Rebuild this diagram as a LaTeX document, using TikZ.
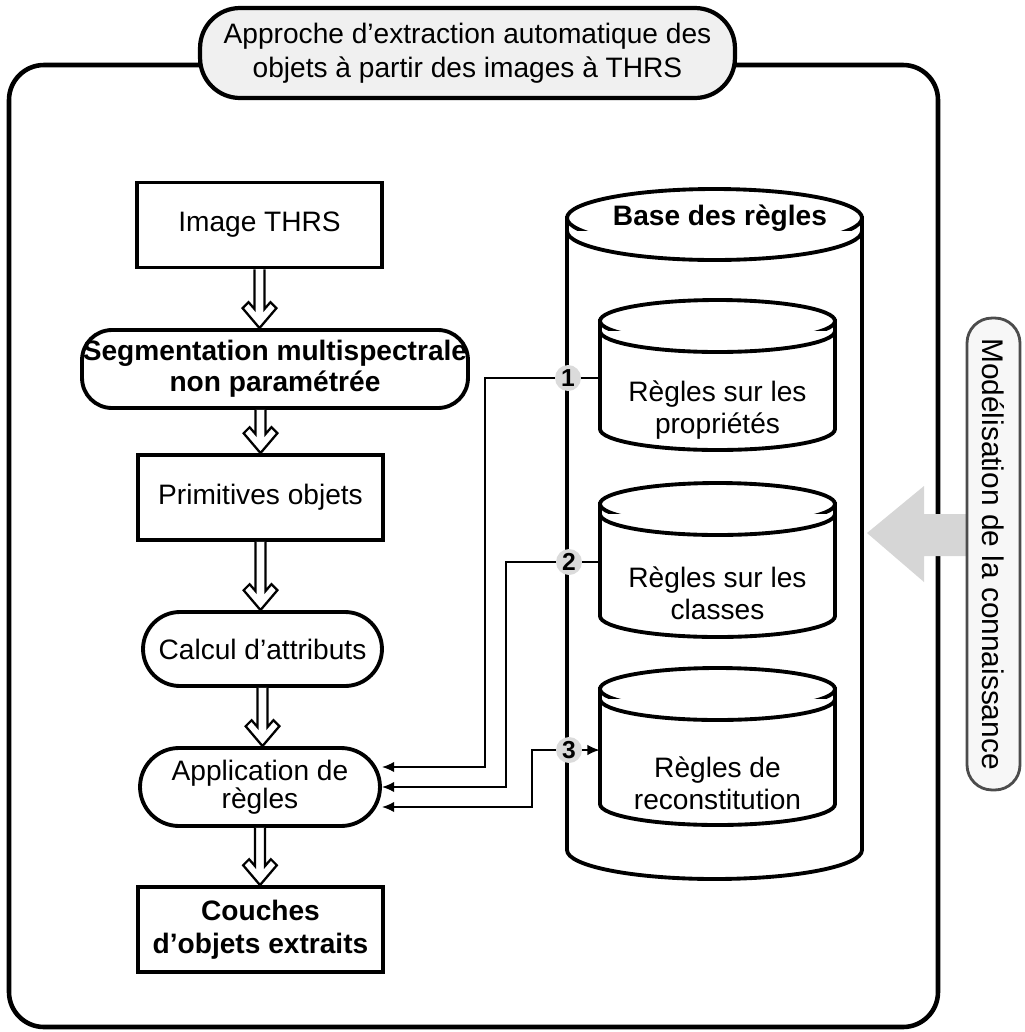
\documentclass[tikz,border=0pt]{standalone}
\usepackage{fontspec}
\setmainfont{Liberation Sans}
\usetikzlibrary{arrows.meta,calc}

% barrel outline: centre x, top centre y, bottom centre y, x radius, y radius, gap of the second rim
\newcommand\barrel[6]{%
  \filldraw[barrelline] (#1-#4,#2) -- (#1-#4,#3)
    arc[start angle=180,end angle=0,x radius=#4,y radius=#5] -- (#1+#4,#2) -- cycle;
  \filldraw[barrelline] (#1,#2) ellipse[x radius=#4,y radius=#5];
  \draw[barrelline] (#1-#4,#2+#6) arc[start angle=180,end angle=0,x radius=#4,y radius=#5];
}

% hollow downward arrow from one anchor to a point straight below it
\newcommand\hollowdown[2]{%
  \draw[hollow] let \p1=#1, \p2=#2 in
    (\x1-2.8pt,\y1) -- (\x1-2.8pt,\y2+10.8pt) -- (\x1-6.2pt,\y2+14.7pt)
    -- (\x1-9.6pt,\y2+11.3pt) -- (\x1,\y2) -- (\x1+9.6pt,\y2+11.3pt)
    -- (\x1+6.2pt,\y2+14.7pt) -- (\x1+2.8pt,\y2+10.8pt) -- (\x1+2.8pt,\y1);
}

\begin{document}
\begin{tikzpicture}[x=0.02cm,y=-0.02cm,
  every node/.style={font=\fontsize{16}{19}\selectfont, align=center, inner sep=0pt},
  boxline/.style={draw, line width=2.2pt, fill=white},
  sqbox/.style={boxline, minimum width=4.9cm, minimum height=1.7cm},
  pill/.style={boxline, rounded corners=0.74cm},
  barrelline/.style={line width=2.2pt, fill=white},
  hollow/.style={line width=1.3pt, fill=white, line join=miter},
  link/.style={line width=1pt, -{Latex[length=7pt,width=6pt]}},
  plainlink/.style={line width=1pt},
  badge/.style={circle, fill=gray!28, minimum size=0.52cm, font=\fontsize{14}{16}\selectfont\bfseries},
]
\useasboundingbox (0,0) rectangle (1025,1032);

% outer frame
\draw[line width=2.6pt, rounded corners=0.7cm] (9,65) rectangle (938,1027);

% title
\node[draw, line width=2.4pt, fill=gray!12, rounded corners=0.8cm,
      minimum width=10.7cm, minimum height=1.8cm,
      font=\fontsize{16}{19.5}\selectfont] (title) at (467.5,53)
  {Approche d’extraction automatique des\\objets à partir des images à THRS};

% processing chain
\node[sqbox] (img) at (259.5,225) {Image THRS};
\node[pill, rounded corners=0.6cm, minimum width=7.72cm, minimum height=1.56cm,
      font=\fontsize{16}{17.5}\selectfont\bfseries] (seg) at (275,369)
  {Segmentation multispectrale\\non paramétrée};
\node[sqbox] (prim) at (260.5,497.5) {Primitives objets};
\node[pill, minimum width=4.78cm, minimum height=1.48cm] (calc) at (262.5,649) {Calcul d’attributs};
\node[pill, rounded corners=0.78cm, minimum width=4.8cm, minimum height=1.56cm,
      font=\fontsize{16}{16}\selectfont] (app) at (260,787) {Application de\\règles};
\node[sqbox, font=\fontsize{16}{18.5}\selectfont\bfseries] (out) at (260.5,929.5)
  {Couches\\d’objets extraits};

\hollowdown{(img.south)}{(img.south |- seg.north)}
\hollowdown{(prim.north |- seg.south)}{(prim.north)}
\hollowdown{(prim.south)}{(prim.south |- calc.north)}
\hollowdown{(calc.south)}{(calc.south |- app.north)}
\hollowdown{(app.south)}{(app.south |- out.north)}

% rule base
\barrel{714.5}{218}{850}{147.5}{29}{13}
\node[font=\fontsize{16}{19}\selectfont\bfseries] (basetitle) at (720,218) {Base des règles};
\node[minimum width=5.9cm, minimum height=13.8cm] (base) at (714.5,533) {};

\barrel{717.5}{321}{429}{117.5}{21}{10}
\barrel{717.5}{504}{616}{117.5}{21}{10}
\barrel{717.5}{689}{804}{117.5}{21}{10}
\node[minimum width=4.7cm, minimum height=3cm] (rule1) at (717.5,378) {};
\node[minimum width=4.7cm, minimum height=3cm] (rule2) at (717.5,562) {};
\node[minimum width=4.7cm, minimum height=3cm] (rule3) at (717.5,750) {};
\node[font=\fontsize{16}{18}\selectfont] (t1) at (717.5,410) {Règles sur les\\propriétés};
\node[font=\fontsize{16}{18}\selectfont] (t2) at (717.5,593) {Règles sur les\\classes};
\node[font=\fontsize{16}{18}\selectfont] (t3) at (717.5,783) {Règles de\\reconstitution};

% numbered links
\node[badge] (b1) at (568,378) {1};
\node[badge] (b2) at (569,562) {2};
\node[badge] (b3) at (569,750) {3};

\draw[plainlink] (rule1.west) -- (b1.east);
\draw[plainlink] (rule2.west) -- (b2.east);
\draw[link] (b3.east) -- (rule3.west);

\draw[link] (b1.west) -- (485,378) |- ($(app.east)+(0,-20)$);
\draw[link] (b2.west) -- (506,562) |- (app.east);
\draw[link] (b3.west) -- (532,750) |- ($(app.east)+(0,20)$);

% knowledge modelling
\fill[gray!32] (867,533) -- (924,486) -- (924,514) -- (968,514) -- (968,556)
  -- (924,556) -- (924,582) -- cycle;
\node[draw=gray!60!black, line width=1.6pt, fill=gray!6, rounded corners=0.5cm,
      minimum width=9.44cm, minimum height=1.06cm, rotate=-90,
      font=\fontsize{17}{19}\selectfont] (model) at (993.5,554)
  {Modélisation de la connaissance};
\end{tikzpicture}
\end{document}
